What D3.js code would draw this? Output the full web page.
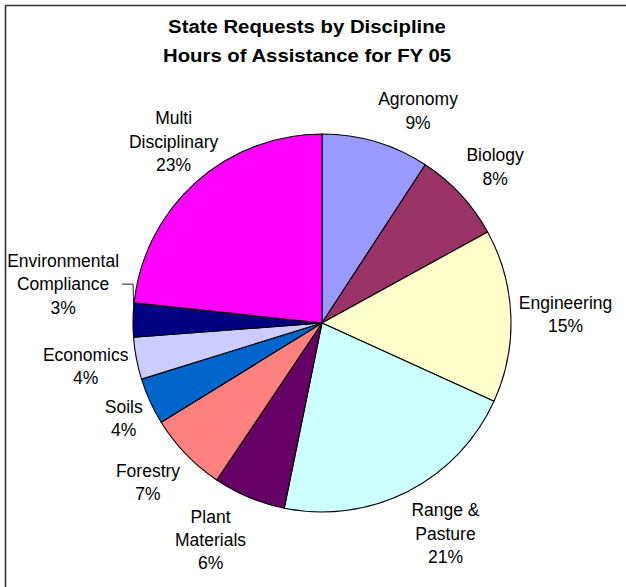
<!DOCTYPE html>
<html>
<head>
<meta charset="utf-8">
<script src="https://cdn.jsdelivr.net/npm/d3@7/dist/d3.min.js"></script>
<style>
  html, body { margin: 0; padding: 0; background: #fff; }
  svg { display: block; font-family: "Liberation Sans", Arial, sans-serif; }
</style>
</head>
<body>
<svg id="chart" width="626" height="587"></svg>
<script>
/* FY 05 state requests pie, Excel-style labels outside the slices */

const titleLines = ["State Requests by Discipline", "Hours of Assistance for FY 05"];

// clockwise from 12 o'clock
const categories = [
  "Agronomy",
  "Biology",
  "Engineering",
  "Range & Pasture",
  "Plant Materials",
  "Forestry",
  "Soils",
  "Economics",
  "Environmental Compliance",
  "Multi Disciplinary",
];

// share of hours (%)
const shares = [9.2, 7.8, 14.8, 21.4, 6.2, 6.8, 4.0, 3.6, 2.9, 23.3];

const labelLines = [
  ["Agronomy"],
  ["Biology"],
  ["Engineering"],
  ["Range &", "Pasture"],
  ["Plant", "Materials"],
  ["Forestry"],
  ["Soils"],
  ["Economics"],
  ["Environmental", "Compliance"],
  ["Multi", "Disciplinary"],
];

const colors = [
  "#9999ff",
  "#993366",
  "#ffffcc",
  "#ccffff",
  "#660066",
  "#ff8080",
  "#0066cc",
  "#ccccff",
  "#000080",
  "#ff00ff",
];

// labels that were dragged by hand in the original sheet
const labelNudge = {
  "Multi Disciplinary": [28, 0],
  "Environmental Compliance": [-6, -35],
};

const W = 626, H = 587;
const cx = 322, cy = 323, R = 189;
const FS = 17.5, LH = 23.3;

const svg = d3.select("#chart");

// frame: only top and left edges show in the picture
svg.append("path")
  .attr("d", `M5.5,${H} V5.5 H${W}`)
  .attr("fill", "none")
  .attr("stroke", "#333")
  .attr("stroke-width", 1.6);

const title = svg.append("g").attr("transform", "translate(307,0) scale(1.13,1)");
titleLines.forEach((t, i) => {
  title.append("text")
    .attr("x", 0)
    .attr("y", 33.5 + i * 28.3)
    .attr("text-anchor", "middle")
    .attr("font-size", 18)
    .attr("font-weight", "bold")
    .attr("fill", "#000")
    .text(t);
});

const total = d3.sum(shares);
const arcs = d3.pie().sort(null).value((d) => d)(shares);
const arc = d3.arc().innerRadius(0).outerRadius(R);

const pieG = svg.append("g").attr("transform", `translate(${cx},${cy})`);

pieG.selectAll("path")
  .data(arcs)
  .join("path")
  .attr("d", arc)
  .attr("fill", (d, i) => colors[i])
  .attr("stroke", "#000")
  .attr("stroke-width", 1.1)
  .attr("stroke-linejoin", "round");

const clamp = (v) => Math.max(-1, Math.min(1, v));

arcs.forEach((d, i) => {
  const lines = labelLines[i].concat([Math.round((d.value / total) * 100) + "%"]);
  const a = (d.startAngle + d.endAngle) / 2;
  const s = Math.sin(a), c = Math.cos(a);
  const px = (R + 8) * s, py = -(R + 8) * c;

  const text = pieG.append("text")
    .attr("text-anchor", "middle")
    .attr("font-size", FS)
    .attr("fill", "#000");
  const spans = lines.map((t) => text.append("tspan").text(t));
  const w = d3.max(spans, (sp) => sp.node().getComputedTextLength());
  const h = lines.length * LH;

  const nudge = labelNudge[categories[i]] || [0, 0];
  const lx = px + (w / 2) * Math.sign(s) + nudge[0];
  const ly = py - (h / 2) * clamp(1.4 * c) + nudge[1];
  const y0 = ly - ((lines.length - 1) * LH) / 2 + 0.35 * FS;

  spans.forEach((sp, k) => sp.attr("x", lx).attr("y", y0 + k * LH));

  if (categories[i] === "Environmental Compliance") {
    // leader from the moved label back to its slice
    const ea = d.endAngle - 0.15 * (d.endAngle - d.startAngle);
    const ex = R * Math.sin(ea), ey = -R * Math.cos(ea);
    const yLine = y0 + LH - 0.35 * FS;
    pieG.append("path")
      .attr("d", `M${lx + w / 2 + 3},${yLine} H${ex - 0.5} L${ex},${ey}`)
      .attr("fill", "none")
      .attr("stroke", "#222")
      .attr("stroke-width", 1);
  }
});
</script>
</body>
</html>
